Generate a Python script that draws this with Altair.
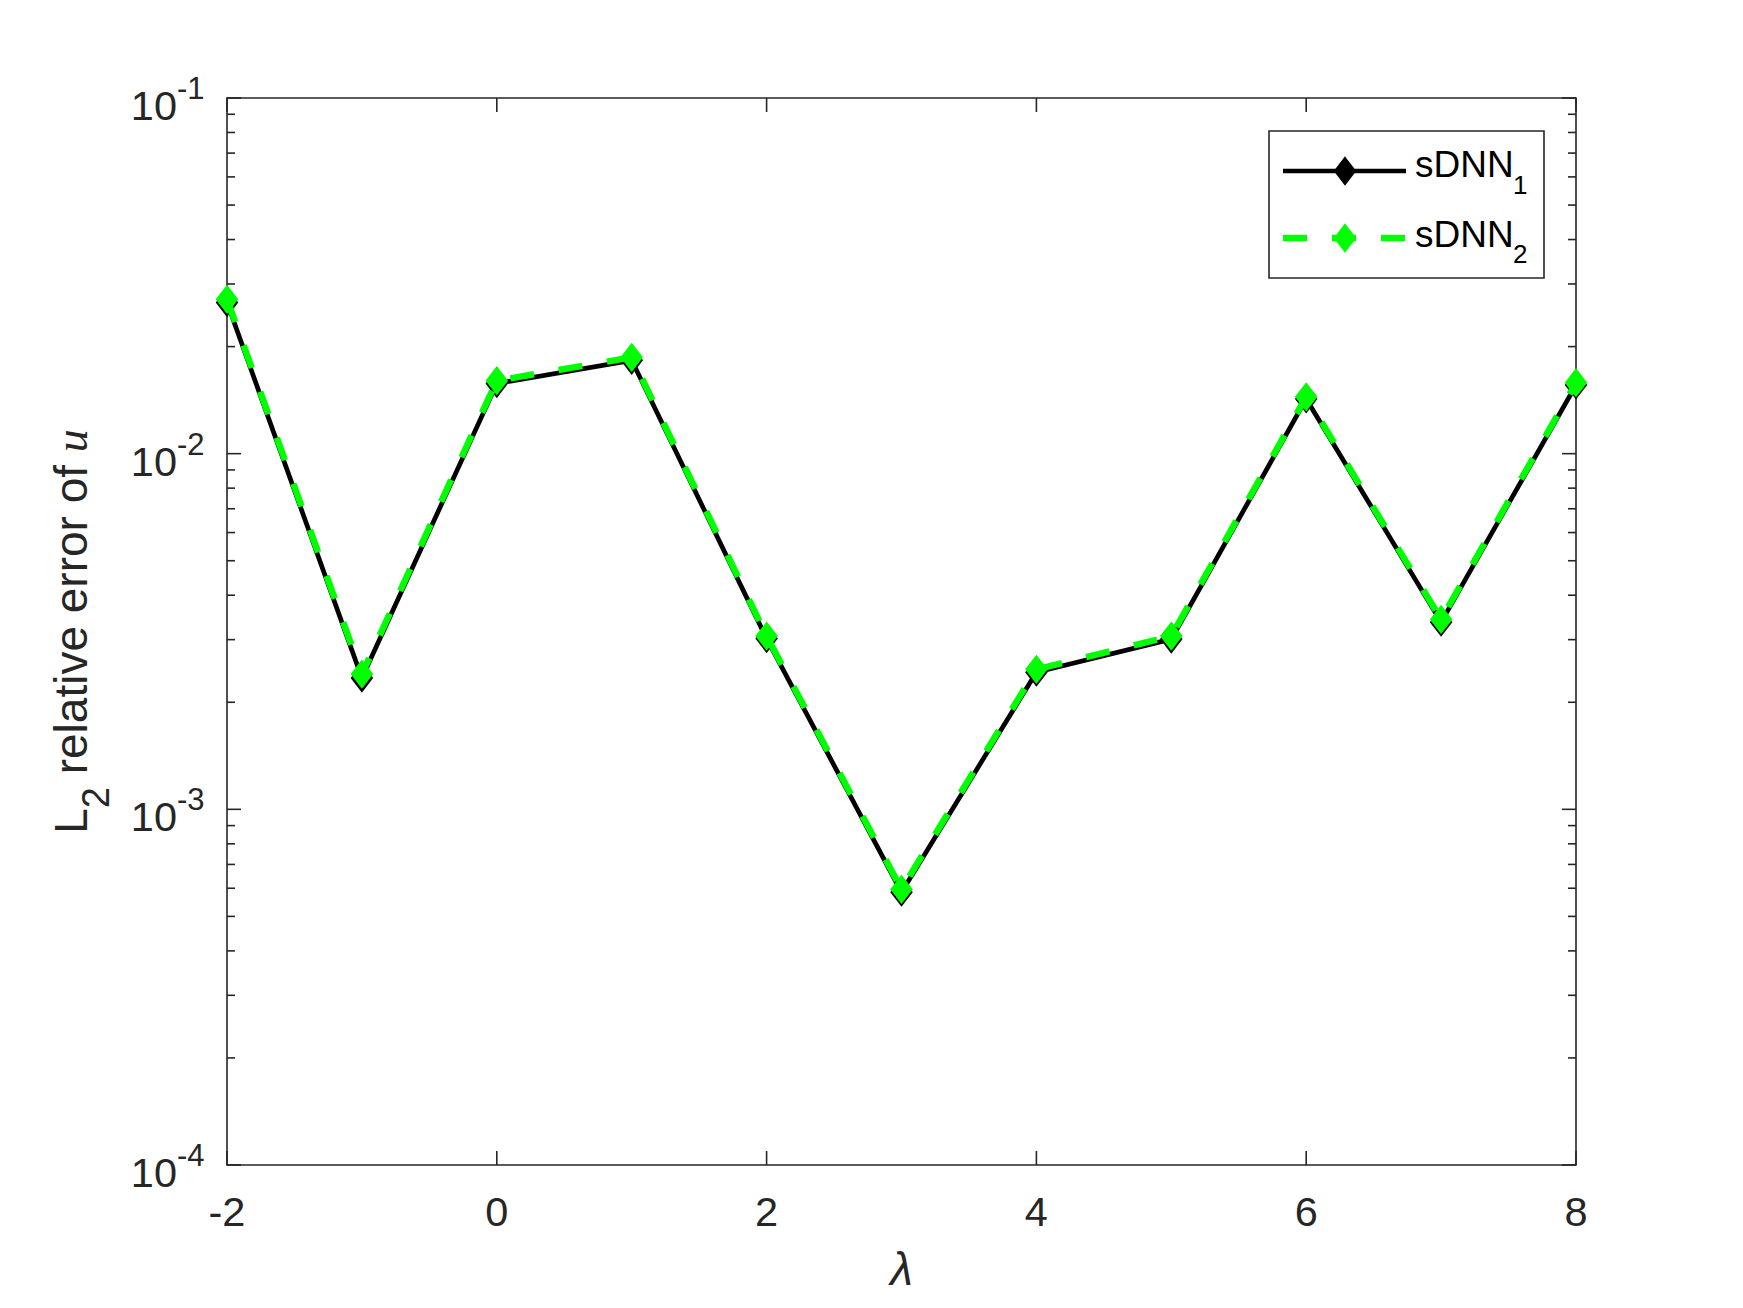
import altair as alt
import pandas as pd

# ---- data ----
lam = [-2, -1, 0, 1, 2, 3, 4, 5, 6, 7, 8]
sdnn1 = [0.0266, 0.00234, 0.01575, 0.01830, 0.00302, 0.000585, 0.00243, 0.00301, 0.01425, 0.00336, 0.01560]
sdnn2 = [0.02716, 0.00240, 0.01604, 0.01866, 0.00307, 0.000596, 0.002475, 0.00307, 0.01445, 0.00342, 0.01583]

x_ticks = [-2, 0, 2, 4, 6, 8]
x_tick_labels = ["-2", "0", "2", "4", "6", "8"]
y_major = [1e-4, 1e-3, 1e-2, 1e-1]
y_base = ["10", "10", "10", "10"]
y_exp = ["-4", "-3", "-2", "-1"]
y_minor = [m * 10.0 ** e for e in (-4, -3, -2) for m in range(2, 10)]

legend_names = ["sDNN", "sDNN"]
legend_subs = ["1", "2"]

# ---- styling ----
W, H = 1349, 1067
AX = "#262626"
GREEN = "#00ff00"
FONT = "Liberation Sans"
DIAMOND = "M0,-1.3L1,0L0,1.3L-1,0Z"

xs = alt.Scale(domain=[-2, 8], nice=False, zero=False)
ys = alt.Scale(type="log", domain=[1e-4, 1e-1], nice=False)
X = alt.X("x:Q", scale=xs, axis=None)
Y = alt.Y("y:Q", scale=ys, axis=None)

d1 = pd.DataFrame({"x": lam, "y": sdnn1})
d2 = pd.DataFrame({"x": lam, "y": sdnn2})
dmaj = pd.DataFrame({"y": y_major, "base": y_base, "exp": y_exp})
dmin = pd.DataFrame({"y": y_minor})
dxt = pd.DataFrame({"x": x_ticks, "lab": x_tick_labels})
one = pd.DataFrame({"a": [0]})

layers = []

# axes box (drawn as a rect so its colour is exact)
layers.append(alt.Chart(one).mark_rect(fill="white", stroke=AX, strokeWidth=1.6)
              .encode(x=alt.value(0), x2=alt.value(W), y=alt.value(0), y2=alt.value(H)))

# data series
layers.append(alt.Chart(d1).mark_line(color="black", strokeWidth=4.7).encode(x=X, y=Y))
layers.append(alt.Chart(d1).mark_point(shape=DIAMOND, size=400, filled=True, fill="black",
                                       stroke="black", strokeWidth=2, opacity=1).encode(x=X, y=Y))
layers.append(alt.Chart(d2).mark_line(color=GREEN, strokeWidth=6.5, strokeDash=[24, 25]).encode(x=X, y=Y))
layers.append(alt.Chart(d2).mark_point(shape=DIAMOND, size=400, filled=True, fill=GREEN,
                                       stroke=GREEN, strokeWidth=2, opacity=1).encode(x=X, y=Y))

# ticks (inward, MATLAB box style)
tick = dict(color=AX, strokeWidth=1.6)
layers.append(alt.Chart(dmaj).mark_rule(**tick).encode(y=Y, x=alt.value(0), x2=alt.value(14)))
layers.append(alt.Chart(dmaj).mark_rule(**tick).encode(y=Y, x=alt.value(W), x2=alt.value(W - 14)))
layers.append(alt.Chart(dmin).mark_rule(**tick).encode(y=Y, x=alt.value(0), x2=alt.value(8)))
layers.append(alt.Chart(dmin).mark_rule(**tick).encode(y=Y, x=alt.value(W), x2=alt.value(W - 8)))
layers.append(alt.Chart(dxt).mark_rule(**tick).encode(x=X, y=alt.value(H), y2=alt.value(H - 14)))
layers.append(alt.Chart(dxt).mark_rule(**tick).encode(x=X, y=alt.value(0), y2=alt.value(14)))

# y tick labels 10^e
layers.append(alt.Chart(dmaj).mark_text(align="right", baseline="alphabetic", dy=22,
                                        font=FONT, fontSize=41.5, color=AX)
              .encode(y=Y, x=alt.value(-50), text="base:N"))
layers.append(alt.Chart(dmaj).mark_text(align="left", baseline="alphabetic", dy=1,
                                        font=FONT, fontSize=31, color=AX)
              .encode(y=Y, x=alt.value(-50), text="exp:N"))

# x tick labels
layers.append(alt.Chart(dxt).mark_text(align="center", baseline="alphabetic",
                                       font=FONT, fontSize=41.5, color=AX)
              .encode(x=X, y=alt.value(H + 61), text="lab:N"))

# x title
layers.append(alt.Chart(one).mark_text(align="center", baseline="alphabetic", font=FONT,
                                       fontSize=46, fontStyle="italic", color=AX, text="λ")
              .encode(x=alt.value(W / 2), y=alt.value(1187)))

# y title: L_2 relative error of u
def ytext(txt, xpos, ypos, size, font=FONT, style="normal"):
    return alt.Chart(one).mark_text(align="left", baseline="alphabetic", angle=270, font=font,
                                    fontSize=size, fontStyle=style, color=AX, text=txt
                                    ).encode(x=alt.value(xpos), y=alt.value(ypos))

layers.append(ytext("L", -140, 735.8, 46))
layers.append(ytext("2", -118, 710.2, 38))
layers.append(ytext("relative error of", -140, 676.3, 46))
layers.append(ytext("u", -140, 354.2, 46, font="Liberation Serif", style="italic"))

# legend
layers.append(alt.Chart(one).mark_rect(fill="white", stroke=AX, strokeWidth=1.6)
              .encode(x=alt.value(1042), x2=alt.value(1317), y=alt.value(33), y2=alt.value(180)))
layers.append(alt.Chart(one).mark_rule(color="black", strokeWidth=4.7)
              .encode(x=alt.value(1056), x2=alt.value(1179), y=alt.value(73)))
layers.append(alt.Chart(one).mark_point(shape=DIAMOND, size=400, filled=True, fill="black",
                                        stroke="black", strokeWidth=2, opacity=1)
              .encode(x=alt.value(1118), y=alt.value(73)))
layers.append(alt.Chart(one).mark_rule(color=GREEN, strokeWidth=6.5, strokeDash=[24, 25])
              .encode(x=alt.value(1056), x2=alt.value(1179), y=alt.value(140)))
layers.append(alt.Chart(one).mark_point(shape=DIAMOND, size=400, filled=True, fill=GREEN,
                                        stroke=GREEN, strokeWidth=2, opacity=1)
              .encode(x=alt.value(1118), y=alt.value(140)))
for i, (yb, ysub) in enumerate([(79, 96), (149, 165)]):
    layers.append(alt.Chart(one).mark_text(align="left", baseline="alphabetic", font=FONT,
                                           fontSize=37, color="black", text=legend_names[i])
                  .encode(x=alt.value(1188), y=alt.value(yb)))
    layers.append(alt.Chart(one).mark_text(align="left", baseline="alphabetic", font=FONT,
                                           fontSize=26, color="black", text=legend_subs[i])
                  .encode(x=alt.value(1286), y=alt.value(ysub)))

chart = alt.layer(*layers).properties(
    width=W, height=H,
    background="white",
    autosize=alt.AutoSizeParams(type="none"),
    padding={"left": 219, "top": 90, "right": 150, "bottom": 135},
).configure_view(strokeWidth=0)

chart.save("out.html", embed_options={"renderer": "svg", "actions": False})
